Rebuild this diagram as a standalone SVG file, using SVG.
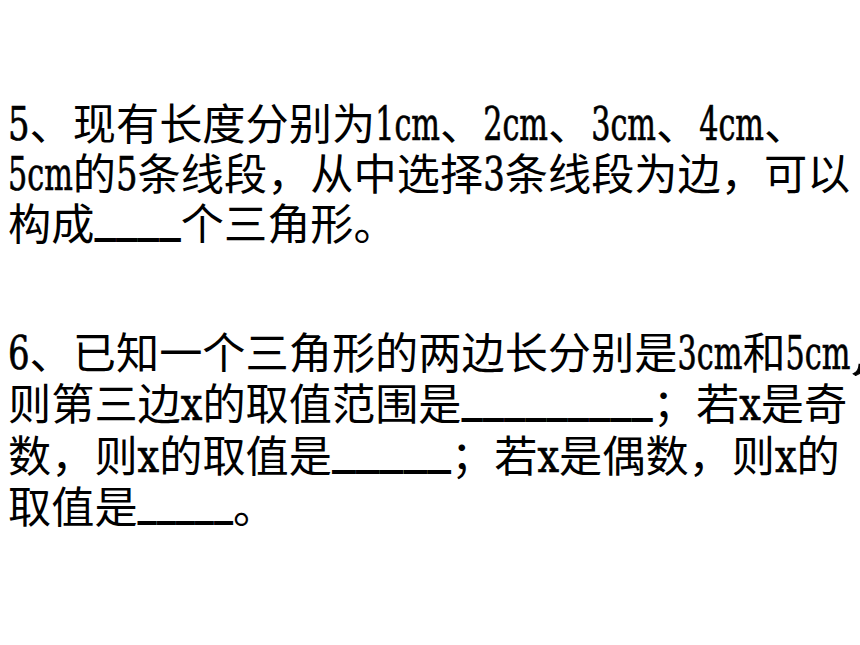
<svg xmlns="http://www.w3.org/2000/svg" width="860" height="645" viewBox="0 0 860 645" lang="zh-CN">
<style>
.c{font-family:"Noto Sans CJK SC","Noto Sans CJK TC",sans-serif;font-size:43.2px;fill:#000}
.l{font-family:"DejaVu Serif","Liberation Serif",serif;font-size:46px;fill:#000;stroke:#000;stroke-width:0.7px}
.u{font-family:"DejaVu Sans","Liberation Sans",sans-serif;font-size:43px;font-weight:bold;fill:#000}
</style>
<rect width="860" height="645" fill="#fff"/>
<g id="q5">
<text class="l" x="8" y="140" textLength="21.6" lengthAdjust="spacingAndGlyphs">5</text>
<text class="c" x="29.6" y="140">、现有长度分别为</text>
<text class="l" x="375.2" y="140" textLength="64.8" lengthAdjust="spacingAndGlyphs">1cm</text>
<text class="c" x="440" y="140">、</text>
<text class="l" x="483.2" y="140" textLength="64.8" lengthAdjust="spacingAndGlyphs">2cm</text>
<text class="c" x="548" y="140">、</text>
<text class="l" x="591.2" y="140" textLength="64.8" lengthAdjust="spacingAndGlyphs">3cm</text>
<text class="c" x="656" y="140">、</text>
<text class="l" x="699.2" y="140" textLength="64.8" lengthAdjust="spacingAndGlyphs">4cm</text>
<text class="c" x="764" y="140">、</text>

<text class="l" x="8" y="190" textLength="64.8" lengthAdjust="spacingAndGlyphs">5cm</text>
<text class="c" x="72.8" y="190">的</text>
<text class="l" x="116" y="190" textLength="21.6" lengthAdjust="spacingAndGlyphs">5</text>
<text class="c" x="137.6" y="190">条线段，从中选择</text>
<text class="l" x="483.2" y="190" textLength="21.6" lengthAdjust="spacingAndGlyphs">3</text>
<text class="c" x="504.8" y="190">条线段为边，可以</text>

<text class="c" x="8" y="240">构成</text>
<text class="u" x="94.4" y="232" textLength="86.4" lengthAdjust="spacingAndGlyphs">____</text>
<text class="c" x="180.8" y="240">个三角形。</text>
</g>
<g id="q6">
<text class="l" x="8" y="369" textLength="21.6" lengthAdjust="spacingAndGlyphs">6</text>
<text class="c" x="29.6" y="369">、已知一个三角形的两边长分别是</text>
<text class="l" x="677.6" y="369" textLength="64.8" lengthAdjust="spacingAndGlyphs">3cm</text>
<text class="c" x="742.4" y="369">和</text>
<text class="l" x="785.6" y="369" textLength="64.8" lengthAdjust="spacingAndGlyphs">5cm</text>
<text class="l" x="850.4" y="369" textLength="21.6" lengthAdjust="spacingAndGlyphs">,</text>

<text class="c" x="8" y="420">则第三边</text>
<text class="l" x="180.8" y="420" textLength="21.6" lengthAdjust="spacingAndGlyphs">x</text>
<text class="c" x="202.4" y="420">的取值范围是</text>
<text class="u" x="461.6" y="412" textLength="191.2" lengthAdjust="spacingAndGlyphs">_________</text>
<text class="c" x="652.8" y="420">；若</text>
<text class="l" x="739.2" y="420" textLength="21.6" lengthAdjust="spacingAndGlyphs">x</text>
<text class="c" x="760.8" y="420">是奇</text>

<text class="c" x="8" y="472">数，则</text>
<text class="l" x="137.6" y="472" textLength="21.6" lengthAdjust="spacingAndGlyphs">x</text>
<text class="c" x="159.2" y="472">的取值是</text>
<text class="u" x="332" y="464" textLength="119" lengthAdjust="spacingAndGlyphs">_____</text>
<text class="c" x="451" y="472">；若</text>
<text class="l" x="537.4" y="472" textLength="21.6" lengthAdjust="spacingAndGlyphs">x</text>
<text class="c" x="559" y="472">是偶数，则</text>
<text class="l" x="775" y="472" textLength="21.6" lengthAdjust="spacingAndGlyphs">x</text>
<text class="c" x="796.6" y="472">的</text>

<text class="c" x="8" y="523">取值是</text>
<text class="u" x="137.6" y="515" textLength="95.4" lengthAdjust="spacingAndGlyphs">_____</text>
<text class="c" x="233" y="523">。</text>
</g>
</svg>
